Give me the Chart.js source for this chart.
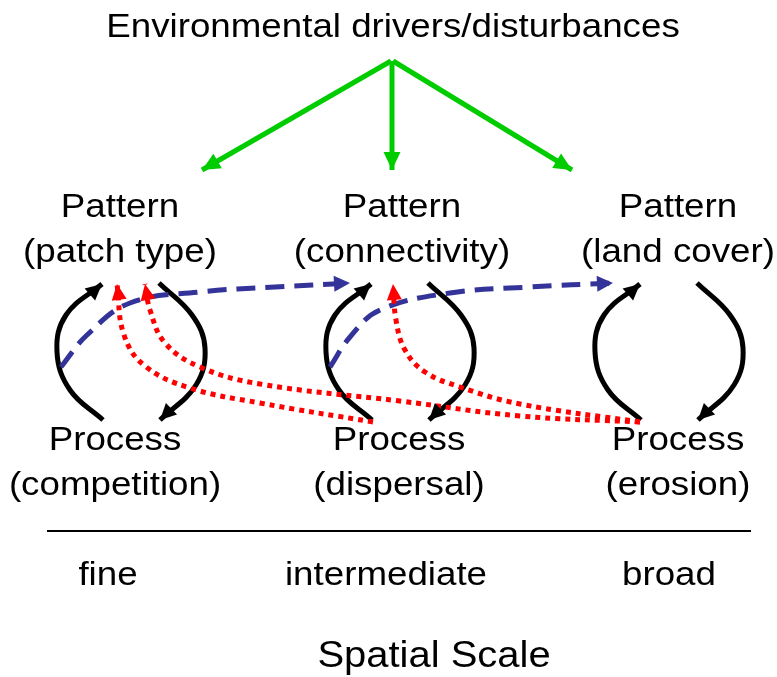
<!DOCTYPE html>
<html>
<head>
<meta charset="utf-8">
<script src="https://cdn.jsdelivr.net/npm/chart.js@4.4.1/dist/chart.umd.min.js"></script>
<style>
    html, body { margin: 0; padding: 0; background: #fff; }
    #wrap { width: 777px; height: 677px; }
</style>
</head>
<body>
<div id="wrap"><canvas id="diagram" width="777" height="677"></canvas></div>
<script>
// ==========================================================
// DATA (diagram units: 0..777 across, 0..677 down)
// ==========================================================
const titleText = 'Environmental drivers/disturbances';
const patternLabels = ['(patch type)', '(connectivity)', '(land cover)'];
const processLabels = ['(competition)', '(dispersal)', '(erosion)'];
const scaleLabels = ['fine', 'intermediate', 'broad'];
const axisTitle = 'Spatial Scale';

// drivers -> patterns
const greenPaths = [
    [[391, 61], [202, 170]],
    [[392, 61], [392, 170]],
    [[393, 61], [572, 170]]
];

// pattern <-> process loops (up arc, down arc for each scale)
const blackPaths = [
    [[103, 420], [70, 390], [57, 352], [66, 315], [102, 284]],
    [[159, 283], [192, 315], [205, 348], [196, 385], [160, 420]],
    [[372, 420], [339, 390], [326, 352], [335, 315], [371, 284]],
    [[428, 283], [461, 315], [474, 348], [465, 385], [429, 420]],
    [[641, 420], [608, 390], [595, 352], [604, 315], [640, 284]],
    [[697, 283], [730, 315], [743, 348], [734, 385], [698, 420]]
];

// fine -> coarser patterns (dashed)
const bluePaths = [
    [[61, 367], [87, 335], [130, 303], [200, 292], [275, 287], [350, 283]],
    [[330, 367], [350, 337], [380, 310], [450, 293], [530, 287], [613, 283]]
];

// coarse processes -> finer patterns (dotted)
const redPaths = [
    [[373, 422], [260, 403], [190, 388], [145, 366], [124, 335], [117, 284]],
    [[640, 422], [520, 416], [400, 401], [260, 384], [200, 367], [165, 343], [150, 310], [145, 284]],
    [[640, 422], [520, 404], [460, 387], [425, 372], [405, 350], [396, 320], [393, 284]]
];

const baseLine = [[47, 531], [751, 531]];

// label anchors
const colPattern = [120, 402, 678];
const colProcess = [115, 399, 678];
const colScale = [108, 386, 669];

// ==========================================================
// DATASETS
// ==========================================================
function toPts(path) {
    return path.map(p => ({ x: p[0], y: p[1] }));
}

function pathSet(path, color, width, dash, tension, order, head) {
    return {
        data: toPts(path),
        showLine: true,
        borderColor: color,
        backgroundColor: color,
        borderWidth: width,
        borderDash: dash,
        borderCapStyle: 'butt',
        tension: tension,
        pointRadius: 0,
        pointHoverRadius: 0,
        fill: false,
        clip: false,
        order: order,
        arrowHead: head
    };
}

const datasets = [];
redPaths.forEach(p => datasets.push(pathSet(p, '#FF0000', 5, [5, 5], 0.4, 0, { len: 16, wid: 15 })));
bluePaths.forEach(p => datasets.push(pathSet(p, '#333399', 5, [19, 10], 0.4, 1, { len: 16, wid: 16 })));
blackPaths.forEach(p => datasets.push(pathSet(p, '#000000', 5, [], 0.4, 2, { len: 16, wid: 16 })));
greenPaths.forEach(p => datasets.push(pathSet(p, '#00CC00', 5, [], 0, 3, { len: 18, wid: 17 })));
datasets.push(pathSet(baseLine, '#000000', 2, [], 0, 4, null));

// ==========================================================
// PLUGINS
// ==========================================================
const arrowPlugin = {
    id: 'arrowHeads',
    afterDatasetsDraw(chart) {
        const ctx = chart.ctx;
        chart.data.datasets.forEach((ds, i) => {
            if (!ds.arrowHead) return;
            const pts = chart.getDatasetMeta(i).data;
            const tip = pts[pts.length - 1];
            let fx = pts[pts.length - 2].x, fy = pts[pts.length - 2].y;
            if (ds.tension > 0 && tip.cp1x !== undefined && (tip.cp1x !== tip.x || tip.cp1y !== tip.y)) {
                fx = tip.cp1x;
                fy = tip.cp1y;
            }
            const a = Math.atan2(tip.y - fy, tip.x - fx);
            const L = ds.arrowHead.len, W = ds.arrowHead.wid / 2;
            const bx = tip.x - L * Math.cos(a), by = tip.y - L * Math.sin(a);
            ctx.save();
            ctx.fillStyle = ds.borderColor;
            ctx.beginPath();
            ctx.moveTo(tip.x, tip.y);
            ctx.lineTo(bx - W * Math.sin(a), by + W * Math.cos(a));
            ctx.lineTo(bx + W * Math.sin(a), by - W * Math.cos(a));
            ctx.closePath();
            ctx.fill();
            ctx.restore();
        });
    }
};

const FONT = '"Liberation Sans", Arial, Helvetica, sans-serif';

const labelPlugin = {
    id: 'diagramLabels',
    afterDraw(chart) {
        const ctx = chart.ctx;
        const xs = chart.scales.x, ys = chart.scales.y;
        function put(text, x, y, size) {
            ctx.save();
            ctx.font = `${size}px ${FONT}`;
            ctx.fillStyle = '#000';
            ctx.textAlign = 'center';
            ctx.textBaseline = 'alphabetic';
            ctx.translate(xs.getPixelForValue(x), ys.getPixelForValue(y));
            ctx.scale(1.08, 1); // source text is set slightly wide
            ctx.fillText(text, 0, 0);
            ctx.restore();
        }
        put(titleText, 393, 37, 34);
        patternLabels.forEach((t, i) => {
            put('Pattern', colPattern[i], 217, 34);
            put(t, colPattern[i], 262, 34);
        });
        processLabels.forEach((t, i) => {
            put('Process', colProcess[i], 450, 34);
            put(t, colProcess[i], 495, 34);
        });
        scaleLabels.forEach((t, i) => put(t, colScale[i], 585, 34));
        put(axisTitle, 434, 667, 37);
    }
};

// ==========================================================
// CHART
// ==========================================================
new Chart(document.getElementById('diagram'), {
    type: 'scatter',
    data: { datasets: datasets },
    options: {
        responsive: false,
        animation: false,
        devicePixelRatio: 1,
        layout: { padding: 0 },
        plugins: {
            legend: { display: false },
            tooltip: { enabled: false }
        },
        scales: {
            x: { type: 'linear', min: 0, max: 777, display: false },
            y: { type: 'linear', min: 0, max: 677, reverse: true, display: false }
        }
    },
    plugins: [arrowPlugin, labelPlugin]
});
</script>
</body>
</html>
